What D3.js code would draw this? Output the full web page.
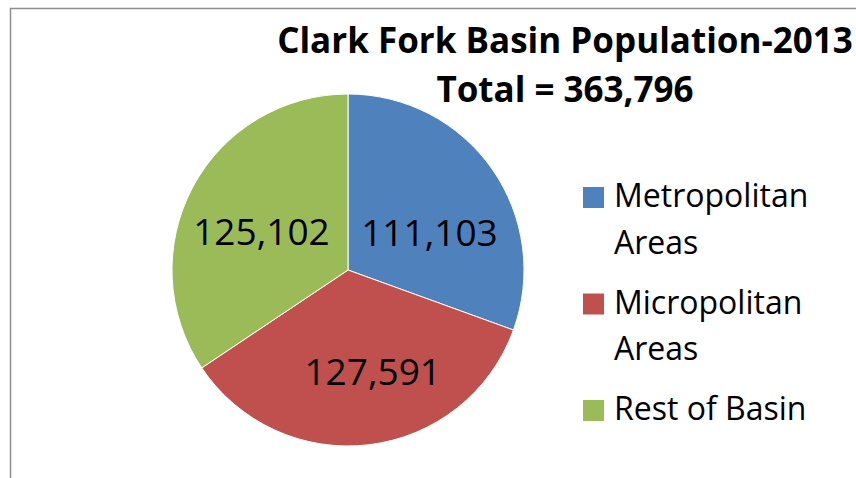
<!DOCTYPE html>
<html>
<head>
<meta charset="utf-8">
<script src="https://cdn.jsdelivr.net/npm/d3@7"></script>
<style>
  body { margin: 0; background: #fff; }
  svg { display: block; }
</style>
</head>
<body>
<div id="chart"></div>
<script>
const categories = ["Metropolitan Areas", "Micropolitan Areas", "Rest of Basin"];
const populations = [111103, 127591, 125102];
const titleLines = ["Clark Fork Basin Population-2013", "Total = 363,796"];

const width = 856, height = 478;
const font = "'Open Sans', sans-serif";

const color = d3.scaleOrdinal()
    .domain(categories)
    .range(["#4F81BD", "#C0504D", "#9BBB59"]);

const svg = d3.select("#chart")
    .append("svg")
    .attr("width", width)
    .attr("height", height);

// chart area border (runs off the right and bottom edges)
svg.append("rect")
    .attr("x", 10.5)
    .attr("y", 8.5)
    .attr("width", 1000)
    .attr("height", 600)
    .attr("fill", "none")
    .attr("stroke", "#8f8f8f")
    .attr("stroke-width", 1.5);

// title
svg.append("text")
    .attr("x", 565)
    .attr("y", 53)
    .attr("text-anchor", "middle")
    .attr("font-family", font)
    .attr("font-weight", "bold")
    .attr("font-size", 35)
    .selectAll("tspan")
    .data(titleLines)
    .join("tspan")
    .attr("x", 565)
    .attr("dy", (d, i) => i === 0 ? 0 : 49)
    .text(d => d);

// pie
const cx = 348, cy = 270, radius = 176;

const pie = d3.pie().sort(null).value(d => d.value);
const arcs = pie(categories.map((c, i) => ({ category: c, value: populations[i] })));

const arc = d3.arc().innerRadius(0).outerRadius(radius);
const labelArc = d3.arc().innerRadius(97).outerRadius(97);

const g = svg.append("g")
    .attr("transform", `translate(${cx},${cy})`);

g.selectAll("path")
    .data(arcs)
    .join("path")
    .attr("d", arc)
    .attr("fill", d => color(d.data.category))
    .attr("stroke", "#fff")
    .attr("stroke-width", 1);

// Excel's "best fit" nudges the labels a bit off the centroid
const labelNudge = [[2, 18], [13, 5], [-1, 7]];

g.selectAll("text")
    .data(arcs)
    .join("text")
    .attr("transform", (d, i) => {
        const [x, y] = labelArc.centroid(d);
        return `translate(${x + labelNudge[i][0]},${y + labelNudge[i][1]})`;
    })
    .attr("dy", 14)
    .attr("text-anchor", "middle")
    .attr("font-family", font)
    .attr("font-size", 37)
    .attr("fill", "#000")
    .text(d => d3.format(",")(d.data.value));

// legend
const legend = svg.append("g")
    .attr("transform", "translate(583,0)");

const lineHeight = 46.5, entryGap = 13.5, maxTextWidth = 236;
let y = 207;

categories.forEach(cat => {
    const item = legend.append("g");
    item.append("rect")
        .attr("x", 0)
        .attr("y", y - 20)
        .attr("width", 21)
        .attr("height", 21)
        .attr("fill", color(cat));

    const text = item.append("text")
        .attr("font-family", font)
        .attr("font-size", 32)
        .attr("fill", "#000");

    // wrap the label to the legend width
    const words = cat.split(" ");
    let line = [];
    let tspan = text.append("tspan").attr("x", 31).attr("y", y);
    words.forEach(w => {
        line.push(w);
        tspan.text(line.join(" "));
        if (tspan.node().getComputedTextLength() > maxTextWidth && line.length > 1) {
            line.pop();
            tspan.text(line.join(" "));
            line = [w];
            y += lineHeight;
            tspan = text.append("tspan").attr("x", 31).attr("y", y).text(w);
        }
    });
    y += lineHeight + entryGap;
});
</script>
</body>
</html>
